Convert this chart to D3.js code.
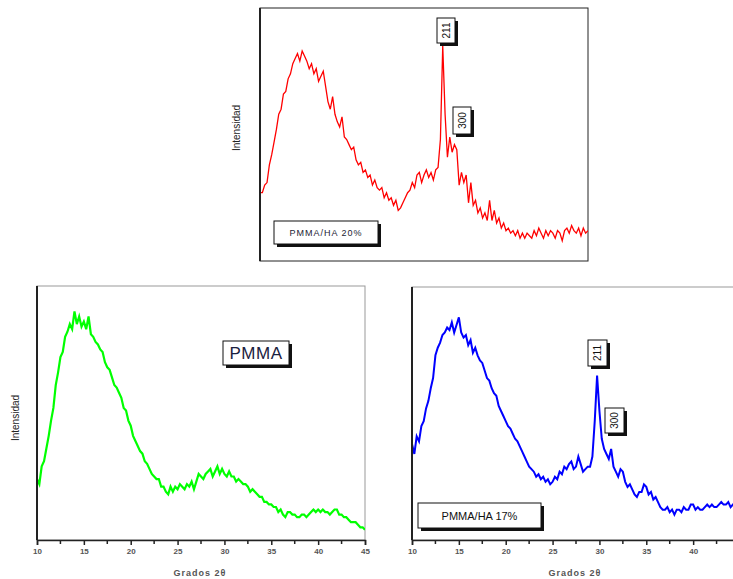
<!DOCTYPE html>
<html>
<head>
<meta charset="utf-8">
<script src="https://cdn.jsdelivr.net/npm/d3@7"></script>
<style>
  body { margin: 0; background: #fff; }
  svg { display: block; font-family: Arial, "Liberation Sans", sans-serif; }
</style>
</head>
<body>
<div id="chart"></div>
<script>
// 2-theta sampling of the scans (degrees)
var thetaStart = 10, thetaStep = 0.25;
var xTicks = [10, 15, 20, 25, 30, 35, 40, 45];
var xMinorTicks = [12.5, 17.5, 22.5, 27.5, 32.5, 37.5, 42.5];

// PMMA/HA 20% (red), one row per degree
var redIntensity = [
  27, 27, 30, 31,
  38, 42, 47, 52,
  58, 60, 66, 67,
  72, 74, 78, 80,
  82, 79, 83, 81,
  79, 76, 78, 74,
  76, 71, 73, 75,
  69, 63, 60, 65,
  58, 55, 53, 57,
  49, 48, 46, 44,
  45, 40, 38, 39,
  35, 36, 33, 34,
  30, 32, 29, 28,
  29, 25, 27, 24,
  25, 22, 24, 20,
  21, 23, 25, 27,
  28, 31, 29, 34,
  35, 31, 34, 36,
  33, 35, 32, 36,
  37, 48, 85, 58,
  41, 49, 43, 46,
  44, 30, 35, 31,
  34, 23, 31, 22,
  24, 19, 21, 17,
  19, 16, 24, 16,
  20, 15, 17, 13,
  15, 12, 13, 11,
  12, 10, 12, 9,
  11, 9, 11, 10,
  9, 12, 10, 13,
  11, 9, 12, 10,
  12, 11, 9, 12,
  11, 8, 12, 13,
  11, 14, 12, 11,
  13, 10, 13, 11,
  12
];

// PMMA (green)
var greenIntensity = [
  24, 22, 29, 31,
  36, 41, 47, 52,
  61, 66, 72, 74,
  80, 82, 85, 83,
  90, 85, 88, 84,
  86, 83, 88, 81,
  80, 78, 77, 75,
  74, 70, 68, 67,
  64, 61, 60, 58,
  56, 52, 51, 47,
  45, 41, 39, 37,
  35, 34, 31, 30,
  28, 26, 25, 24,
  24, 21, 21, 19,
  18, 21, 19, 21,
  20, 22, 21, 20,
  22, 21, 23, 20,
  23, 26, 25, 24,
  26, 27, 28, 25,
  27, 29, 26, 28,
  26, 25, 27, 25,
  25, 23, 24, 23,
  22, 22, 21, 19,
  20, 19, 18, 17,
  17, 15, 15, 14,
  14, 13, 13, 11,
  12, 10, 9, 11,
  11, 10, 10, 9,
  9, 10, 10, 9,
  10, 11, 12, 11,
  12, 11, 12, 11,
  11, 10, 11, 12,
  12, 10, 10, 9,
  9, 8, 7, 7,
  7, 6, 5, 5,
  4
];

// PMMA/HA 17% (blue)
var blueIntensity = [
  38, 34, 41, 39,
  45, 47, 52, 55,
  60, 64, 73, 76,
  78, 81, 82, 84,
  83, 86, 82, 85,
  88, 82, 80, 81,
  77, 79, 74, 76,
  73, 71, 70, 67,
  64, 63, 60, 58,
  57, 53, 51, 49,
  47, 45, 44, 42,
  40, 39, 37, 35,
  33, 31, 29, 28,
  27, 25, 26, 24,
  25, 23, 24, 22,
  23, 25, 24, 27,
  26, 29, 28, 30,
  31, 28, 29, 33,
  30, 27, 28, 29,
  29, 33, 47, 65,
  51, 40, 36, 34,
  32, 36, 29, 27,
  25, 28, 27, 23,
  21, 22, 20, 18,
  17, 19, 19, 22,
  21, 18, 19, 16,
  17, 15, 13, 12,
  12, 13, 11, 12,
  10, 12, 12, 11,
  13, 12, 12, 14,
  14, 12, 13, 12,
  12, 13, 14, 13,
  14, 13, 13, 14,
  15, 14, 14, 15,
  13, 14, 13, 12,
  12
];

var svg = d3.select("#chart").append("svg")
    .attr("width", 733)
    .attr("height", 579);

var defs = svg.append("defs");

function drawPanel(p) {
  var x = d3.scaleLinear().domain([10, 45]).range([p.left, p.right]);
  var y = d3.scaleLinear().domain([0, 100]).range([p.bottom, p.top]);
  var visible = function(d) { return x(d) <= 733; };

  var g = svg.append("g");

  defs.append("clipPath").attr("id", p.id)
    .append("rect")
      .attr("x", p.left).attr("y", p.top)
      .attr("width", Math.min(p.right, 733) - p.left)
      .attr("height", p.bottom - p.top);

  // frame
  g.append("rect")
      .attr("x", p.left).attr("y", p.top)
      .attr("width", p.right - p.left)
      .attr("height", p.bottom - p.top)
      .attr("fill", "none")
      .attr("stroke", p.frameColor)
      .attr("stroke-width", 1);

  var line = d3.line()
      .x(function(d, i) { return x(thetaStart + i * thetaStep); })
      .y(function(d) { return y(d); });

  g.append("path")
      .datum(p.values)
      .attr("clip-path", "url(#" + p.id + ")")
      .attr("fill", "none")
      .attr("stroke", p.color)
      .attr("stroke-width", p.lineWidth)
      .attr("stroke-linejoin", "miter")
      .attr("d", line);

  // left axis line
  g.append("line")
      .attr("x1", p.left).attr("x2", p.left)
      .attr("y1", p.top).attr("y2", p.bottom)
      .attr("stroke", "#222")
      .attr("stroke-width", 2);

  if (p.axis) {
    var axis = g.append("g")
        .attr("transform", "translate(0," + p.bottom + ")")
        .call(d3.axisBottom(x).tickValues(xTicks.filter(visible)).tickSize(5).tickFormat(d3.format("d")));
    axis.select(".domain").attr("stroke", "#222").attr("stroke-width", 1.5);
    axis.selectAll(".tick line").attr("stroke", "#222").attr("stroke-width", 1.5);
    axis.selectAll(".tick text")
        .attr("y", 8)
        .attr("fill", "#555")
        .attr("font-size", 8)
        .attr("font-weight", "bold")
        .attr("font-family", "Arial, 'Liberation Sans', sans-serif");
    axis.selectAll(".minor").data(xMinorTicks.filter(visible)).enter().append("line")
        .attr("x1", function(d) { return x(d); })
        .attr("x2", function(d) { return x(d); })
        .attr("y1", 0).attr("y2", 4)
        .attr("stroke", "#222")
        .attr("stroke-width", 1.5);
    g.append("text")
        .attr("x", p.xLabelX).attr("y", 576)
        .attr("text-anchor", "middle")
        .attr("font-size", 9)
        .attr("font-weight", "bold")
        .attr("letter-spacing", 1)
        .attr("fill", "#555")
        .text("Grados 2θ");
  }

  if (p.yLabelX) {
    g.append("text")
        .attr("transform", "translate(" + p.yLabelX + "," + p.yLabelY + ") rotate(-90)")
        .attr("text-anchor", "middle")
        .attr("font-size", 10)
        .attr("fill", "#222")
        .text("Intensidad");
  }
}

function labelBox(bx, by, bw, bh, text, size, vertical, color, spacing) {
  var g = svg.append("g");
  g.append("rect")
      .attr("x", bx + 3).attr("y", by + 3)
      .attr("width", bw).attr("height", bh)
      .attr("fill", "#111");
  g.append("rect")
      .attr("x", bx).attr("y", by)
      .attr("width", bw).attr("height", bh)
      .attr("fill", "#fff")
      .attr("stroke", "#111")
      .attr("stroke-width", 1);
  var cx = bx + bw / 2, cy = by + bh / 2;
  g.append("text")
      .attr("transform", "translate(" + cx + "," + cy + ")" + (vertical ? " rotate(-90)" : ""))
      .attr("text-anchor", "middle")
      .attr("dominant-baseline", "central")
      .attr("font-size", size)
      .attr("letter-spacing", spacing || 0)
      .attr("fill", color || "#111")
      .text(text);
}

drawPanel({id: "clipRed", left: 260, right: 588, top: 8, bottom: 261,
  values: redIntensity, color: "#ff0000", lineWidth: 1.3, frameColor: "#222",
  axis: false, yLabelX: 240, yLabelY: 128});
drawPanel({id: "clipGreen", left: 37, right: 365, top: 286, bottom: 540,
  values: greenIntensity, color: "#00ff00", lineWidth: 2.2, frameColor: "#999",
  axis: true, xLabelX: 200, yLabelX: 19, yLabelY: 418});
drawPanel({id: "clipBlue", left: 412, right: 740, top: 287, bottom: 540,
  values: blueIntensity, color: "#0000ff", lineWidth: 2, frameColor: "#999",
  axis: true, xLabelX: 575});

labelBox(437, 18, 18, 25, "211", 10, true);
labelBox(453, 107, 18, 27, "300", 10, true);
labelBox(274, 221, 104, 23, "PMMA/HA 20%", 9, false, "#223", 1);
labelBox(223, 341, 66, 24, "PMMA", 17, false, "#1a2040", 0.5);
labelBox(418, 503, 123, 25, "PMMA/HA  17%", 11, false, "#111", 0);
labelBox(588, 340, 19, 26, "211", 10, true);
labelBox(605, 408, 19, 25, "300", 10, true);
</script>
</body>
</html>
